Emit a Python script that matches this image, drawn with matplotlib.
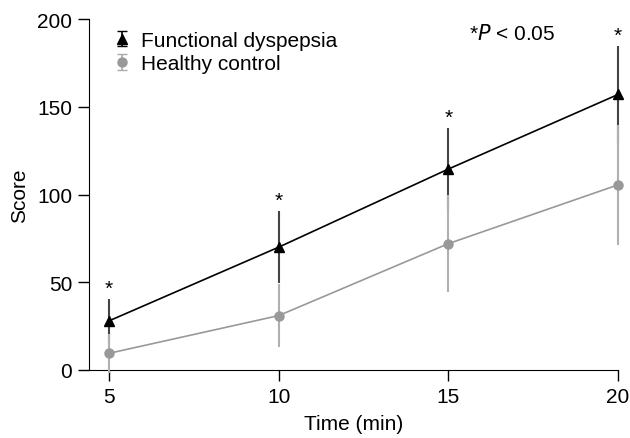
import numpy as np
import matplotlib
matplotlib.use("Agg")
import matplotlib.pyplot as plt
from matplotlib.legend_handler import HandlerErrorbar

plt.rcParams['font.family'] = ['Liberation Sans', 'DejaVu Sans']

# data
time_min = [5, 10, 15, 20]
fd_mean = [28, 70, 114.5, 157]
fd_err = [12.5, 20.5, 23.5, 27.5]
hc_mean = [9.5, 31, 72, 105.5]
hc_err = [11, 18, 27.5, 34]
signif = ['*', '*', '*', '*']

FS = 15

fig = plt.figure(figsize=(6.3, 4.39), dpi=100)
ax = fig.add_axes([0.1413, 0.1549, 0.8397, 0.7995])

# functional dyspepsia (drawn first, gray series on top)
ax.errorbar(time_min, fd_mean, yerr=fd_err, color='black', ecolor='#444444',
            elinewidth=1.5, capsize=0, marker='^', markersize=7, lw=1.2,
            clip_on=False, zorder=2)
ax.errorbar(time_min, hc_mean, yerr=hc_err, color='#999999', ecolor='#b0b0b0',
            elinewidth=1.5, capsize=0, marker='o', markersize=6.5, lw=1.2,
            clip_on=False, zorder=3)

# legend proxies with caps, as in the original
h1 = ax.errorbar([np.nan], [np.nan], yerr=[1], color='black', ecolor='black',
                 marker='^', markersize=7, ls='none', capsize=3.5, elinewidth=1.2,
                 label='Functional dyspepsia')
h2 = ax.errorbar([np.nan], [np.nan], yerr=[1], color='#999999', ecolor='#aaaaaa',
                 marker='o', markersize=6.5, ls='none', capsize=3.5, elinewidth=1.2,
                 label='Healthy control')

# asterisks above each point
for x, m, e, s in zip(time_min, fd_mean, fd_err, signif):
    ax.annotate(s, (x, m + e), xytext=(0, 1), textcoords='offset points',
                ha='center', va='bottom', fontsize=FS)

ax.text(0.80, 0.99, r'*$\it{P}$ < 0.05', transform=ax.transAxes,
        ha='center', va='top', fontsize=FS)

ax.set_xlim(4.41, 20)
ax.set_ylim(0, 200)
ax.set_xticks(time_min)
ax.set_yticks([0, 50, 100, 150, 200])
ax.spines['top'].set_visible(False)
ax.spines['right'].set_visible(False)
ax.tick_params(direction='out', length=8, width=1, labelsize=FS, pad=4)
ax.set_xlabel('Time (min)', fontsize=FS, labelpad=6)
ax.set_ylabel('Score', fontsize=FS, labelpad=6)

leg = ax.legend(handles=[h1, h2], loc='upper left', bbox_to_anchor=(0.03, 0.99),
                frameon=False, fontsize=FS, handlelength=0.8, handletextpad=0.55,
                labelspacing=0.2, borderaxespad=0,
                handler_map={type(h1): HandlerErrorbar(yerr_size=0.38)})

fig.savefig('out.png', dpi=100)
